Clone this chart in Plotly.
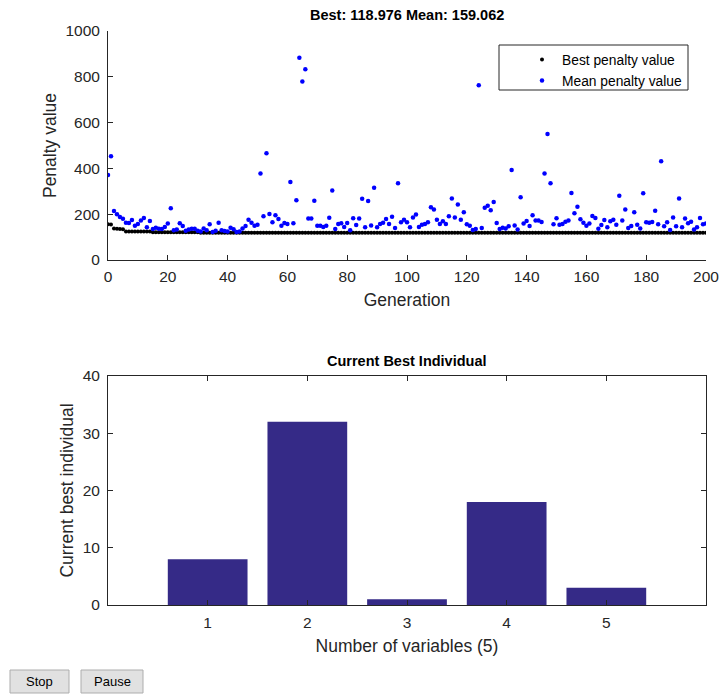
import plotly.graph_objects as go

W, H = 720, 695

generations = list(range(0, 201))

best_penalty = [
    156, 155, 138, 136, 135, 134, 124, 124, 124, 124,
    124, 124, 124, 124, 124, 121, 121, 121, 121, 121,
    121, 121, 121, 121, 121, 121, 121, 121, 121, 121,
    121, 118.976, 118.976, 118.976, 118.976, 118.976, 118.976, 118.976, 118.976, 118.976,
    118.976, 118.976, 118.976, 118.976, 118.976, 118.976, 118.976, 118.976, 118.976, 118.976,
    118.976, 118.976, 118.976, 118.976, 118.976, 118.976, 118.976, 118.976, 118.976, 118.976,
    118.976, 118.976, 118.976, 118.976, 118.976, 118.976, 118.976, 118.976, 118.976, 118.976,
    118.976, 118.976, 118.976, 118.976, 118.976, 118.976, 118.976, 118.976, 118.976, 118.976,
    118.976, 118.976, 118.976, 118.976, 118.976, 118.976, 118.976, 118.976, 118.976, 118.976,
    118.976, 118.976, 118.976, 118.976, 118.976, 118.976, 118.976, 118.976, 118.976, 118.976,
    118.976, 118.976, 118.976, 118.976, 118.976, 118.976, 118.976, 118.976, 118.976, 118.976,
    118.976, 118.976, 118.976, 118.976, 118.976, 118.976, 118.976, 118.976, 118.976, 118.976,
    118.976, 118.976, 118.976, 118.976, 118.976, 118.976, 118.976, 118.976, 118.976, 118.976,
    118.976, 118.976, 118.976, 118.976, 118.976, 118.976, 118.976, 118.976, 118.976, 118.976,
    118.976, 118.976, 118.976, 118.976, 118.976, 118.976, 118.976, 118.976, 118.976, 118.976,
    118.976, 118.976, 118.976, 118.976, 118.976, 118.976, 118.976, 118.976, 118.976, 118.976,
    118.976, 118.976, 118.976, 118.976, 118.976, 118.976, 118.976, 118.976, 118.976, 118.976,
    118.976, 118.976, 118.976, 118.976, 118.976, 118.976, 118.976, 118.976, 118.976, 118.976,
    118.976, 118.976, 118.976, 118.976, 118.976, 118.976, 118.976, 118.976, 118.976, 118.976,
    118.976, 118.976, 118.976, 118.976, 118.976, 118.976, 118.976, 118.976, 118.976, 118.976,
    118.976,
]

mean_penalty = [
    371, 453, 214, 200, 188, 180, 163, 162, 175, 150,
    157, 172, 183, 143, 170, 135, 141, 137, 135, 144,
    159, 226, 130, 133, 160, 148, 128, 133, 137, 137,
    128, 125, 138, 130, 156, 122, 128, 163, 130, 127,
    124, 141, 134, 122, 125, 138, 148, 176, 163, 150,
    154, 378, 191, 466, 201, 165, 195, 179, 150, 162,
    157, 341, 160, 261, 883, 779, 833, 181, 181, 259,
    150, 150, 144, 150, 185, 304, 135, 157, 160, 144,
    162, 130, 182, 153, 181, 268, 143, 258, 151, 316,
    143, 157, 163, 179, 157, 189, 140, 335, 165, 176,
    165, 143, 186, 199, 144, 154, 157, 165, 230, 221,
    176, 157, 169, 157, 191, 269, 186, 242, 176, 208,
    156, 150, 131, 135, 763, 140, 228, 237, 217, 253,
    162, 135, 141, 138, 147, 393, 151, 133, 274, 159,
    170, 148, 195, 173, 173, 166, 378, 550, 335, 156,
    182, 154, 157, 167, 172, 293, 204, 233, 178, 163,
    150, 159, 192, 183, 137, 153, 175, 143, 169, 176,
    154, 281, 173, 221, 140, 148, 208, 154, 138, 291,
    165, 163, 166, 215, 156, 431, 147, 165, 131, 186,
    147, 269, 143, 181, 160, 167, 133, 143, 183, 156,
    159.062,
]

variables = [1, 2, 3, 4, 5]
best_individual = [8, 32, 1, 18, 3]

gen_ticks = [0, 20, 40, 60, 80, 100, 120, 140, 160, 180, 200]
penalty_ticks = [0, 200, 400, 600, 800, 1000]
indiv_ticks = [0, 10, 20, 30, 40]

FONT = "Liberation Sans, Arial, sans-serif"
AX = "#262626"
TICK_SIZE = 15.5
LABEL_SIZE = 17.5


def px_x(x):
    return x / W


def px_y(y):
    return 1 - y / H


fig = go.Figure()

fig.add_trace(go.Scatter(
    x=generations, y=best_penalty, mode="markers", name="Best penalty value",
    marker=dict(color="black", size=4), xaxis="x", yaxis="y"))
fig.add_trace(go.Scatter(
    x=generations, y=mean_penalty, mode="markers", name="Mean penalty value",
    marker=dict(color="#0000FF", size=4.5), xaxis="x", yaxis="y"))
fig.add_trace(go.Bar(
    x=variables, y=best_individual, width=0.8,
    marker=dict(color="#352A87", line=dict(width=0)),
    showlegend=False, xaxis="x2", yaxis="y2"))

common = dict(showgrid=False, zeroline=False, ticks="inside", ticklen=5, tickwidth=1,
              tickcolor=AX, linecolor=AX, linewidth=1, showline=True, automargin=False,
              tickfont=dict(family=FONT, size=TICK_SIZE, color=AX))

fig.update_layout(
    width=W, height=H, margin=dict(l=0, r=0, t=0, b=0),
    paper_bgcolor="white", plot_bgcolor="white",
    font=dict(family=FONT, color=AX),
    xaxis=dict(domain=[px_x(108), px_x(706)], range=[0, 200], tickvals=gen_ticks,
               anchor="y", mirror=False, ticklabelstandoff=2,
               title=dict(text="Generation", font=dict(size=LABEL_SIZE, color=AX), standoff=10),
               **common),
    yaxis=dict(domain=[px_y(260), px_y(31)], range=[0, 1000], tickvals=penalty_ticks,
               anchor="x", mirror=False, ticklabelstandoff=4,
               title=dict(text="Penalty value", font=dict(size=LABEL_SIZE, color=AX), standoff=4),
               **common),
    xaxis2=dict(domain=[px_x(108), px_x(706)], range=[0, 6], tickvals=variables,
                anchor="y2", mirror="ticks", ticklabelstandoff=3,
                title=dict(text="Number of variables (5)", font=dict(size=LABEL_SIZE, color=AX),
                           standoff=10),
                **common),
    yaxis2=dict(domain=[px_y(605), px_y(376)], range=[0, 40], tickvals=indiv_ticks,
                anchor="x2", mirror="ticks", ticklabelstandoff=4,
                title=dict(text="Current best individual", font=dict(size=LABEL_SIZE, color=AX),
                           standoff=4),
                **common),
    legend=dict(x=px_x(522), y=px_y(44), xanchor="left", yanchor="top",
                bgcolor="rgba(0,0,0,0)", borderwidth=0,
                font=dict(family=FONT, size=13.8, color="black"),
                tracegroupgap=0),
    showlegend=True,
)

# legend frame (opaque white box like the reference)
fig.add_shape(type="rect", xref="paper", yref="paper",
              x0=px_x(499), x1=px_x(688), y0=px_y(90), y1=px_y(45),
              fillcolor="white", line=dict(color=AX, width=1), layer="above")

fig.add_annotation(text="<b>Best: 118.976 Mean: 159.062</b>", x=px_x(407), y=px_y(15),
                   xref="paper", yref="paper", showarrow=False,
                   xanchor="center", yanchor="middle",
                   font=dict(family=FONT, size=14.5, color="black"))
fig.add_annotation(text="<b>Current Best Individual</b>", x=px_x(407), y=px_y(361),
                   xref="paper", yref="paper", showarrow=False,
                   xanchor="center", yanchor="middle",
                   font=dict(family=FONT, size=14.5, color="black"))

# Buttons
for label, x0, x1 in [("Stop", 10, 69), ("Pause", 81, 143)]:
    fig.add_shape(type="rect", xref="paper", yref="paper",
                  x0=px_x(x0), x1=px_x(x1), y0=px_y(693), y1=px_y(670),
                  fillcolor="#E1E1E1", line=dict(color="#ADADAD", width=1))
    fig.add_annotation(text=label, x=px_x((x0 + x1) / 2), y=px_y(681.5),
                       xref="paper", yref="paper", showarrow=False,
                       xanchor="center", yanchor="middle",
                       font=dict(family=FONT, size=13, color="black"))

fig.write_html("out.html", config={"displayModeBar": False},
               post_script="document.body.style.margin='0px';")
